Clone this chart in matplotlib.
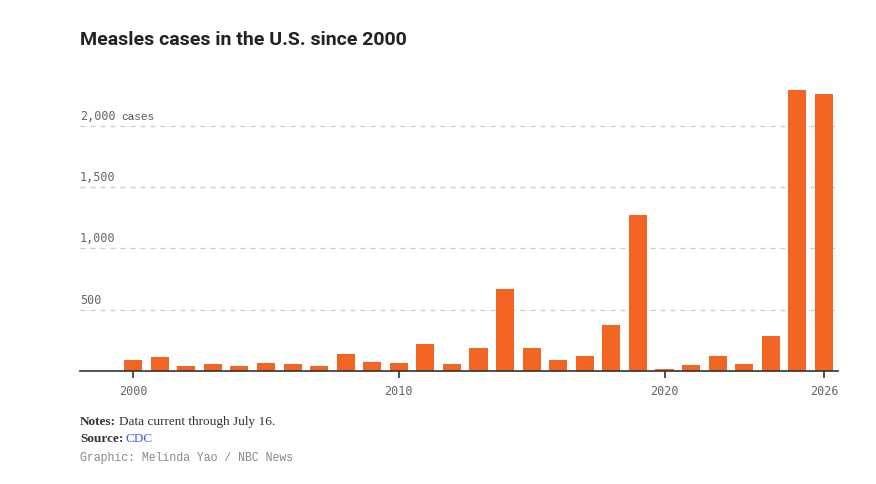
import matplotlib
matplotlib.use("Agg")
import matplotlib.pyplot as plt
from matplotlib.transforms import offset_copy

years = list(range(2000, 2027))
cases = [86, 116, 44, 56, 37, 66, 55, 43, 140, 71, 63, 220, 55, 187, 667, 188,
         86, 120, 375, 1274, 13, 49, 121, 59, 285, 2290, 2255]
y_ticks = [500, 1000, 1500, 2000]
y_tick_labels = ["500", "1,000", "1,500", "2,000"]
x_ticks = [2000, 2010, 2020, 2026]
title = "Measles cases in the U.S. since 2000"

W, H = 876, 484
fig = plt.figure(figsize=(W / 100, H / 100), dpi=100)

def fx(px):
    return px / W

def fy(py):
    return 1 - py / H

left, right, top, bottom = 80, 838, 85, 371
ax = fig.add_axes([fx(left), fy(bottom), fx(right - left), (bottom - top) / H])
bar_color = "#F26522"
ax.bar(years, cases, width=0.68, color=bar_color, zorder=3)
ax.set_xlim(1998.0, 2026.53)
ax.set_ylim(0, 2330)

for s in ["top", "right", "left"]:
    ax.spines[s].set_visible(False)
ax.spines["bottom"].set_color("#333333")
ax.spines["bottom"].set_linewidth(1.2)
ax.spines["bottom"].set_zorder(4)

ax.set_yticks([])
for v in y_ticks:
    ax.axhline(v, color="#cccccc", lw=0.9, ls=(0, (4, 4)), zorder=1)

mono = "DejaVu Sans Mono"
trans = offset_copy(ax.get_yaxis_transform(), fig=fig, x=0, y=2, units="points")
for v, lab in zip(y_ticks, y_tick_labels):
    t = ax.text(0, v, lab, transform=trans, ha="left", va="bottom",
                fontsize=8.5, family=mono, color="#666666")
    if v == 2000:
        fig.canvas.draw()
        r = fig.canvas.get_renderer()
        bb = t.get_window_extent(r)
        fig.text((bb.x1 + 6) / W, (bb.y0 + 1) / H, "cases", ha="left", va="bottom",
                 fontsize=8, family="Liberation Mono", color="#555555")

ax.set_xticks(x_ticks)
ax.set_xticklabels([str(x) for x in x_ticks], family=mono, fontsize=8.5,
                   color="#666666")
ax.tick_params(axis="x", length=5, width=1.2, color="#333333", pad=5)

fig.text(fx(80), fy(40), title, ha="left", va="center", fontsize=14,
         fontweight="bold", family="Roboto", color="#222222")

fig.canvas.draw()
r = fig.canvas.get_renderer()
serif = "Liberation Serif"
t1 = fig.text(fx(80), fy(422), "Notes:", ha="left", va="center", fontsize=9.5,
              fontweight="bold", family=serif, color="#333333")
bb = t1.get_window_extent(r)
fig.text((bb.x1 + 2.5) / W, fy(422), "Data current through July 16.", ha="left",
         va="center", fontsize=9.5, family=serif, color="#333333")
t2 = fig.text(fx(80), fy(439), "Source:", ha="left", va="center", fontsize=9.5,
              fontweight="bold", family=serif, color="#333333")
bb = t2.get_window_extent(r)
fig.text((bb.x1 + 2.5) / W, fy(439), "CDC", ha="left", va="center", fontsize=9.5,
         family=serif, color="#3366ee")
fig.text(fx(80), fy(458), "Graphic: Melinda Yao / NBC News", ha="left",
         va="center", fontsize=8.3, family="Liberation Mono", color="#888888")

fig.savefig("out.png", dpi=100, facecolor="white")
